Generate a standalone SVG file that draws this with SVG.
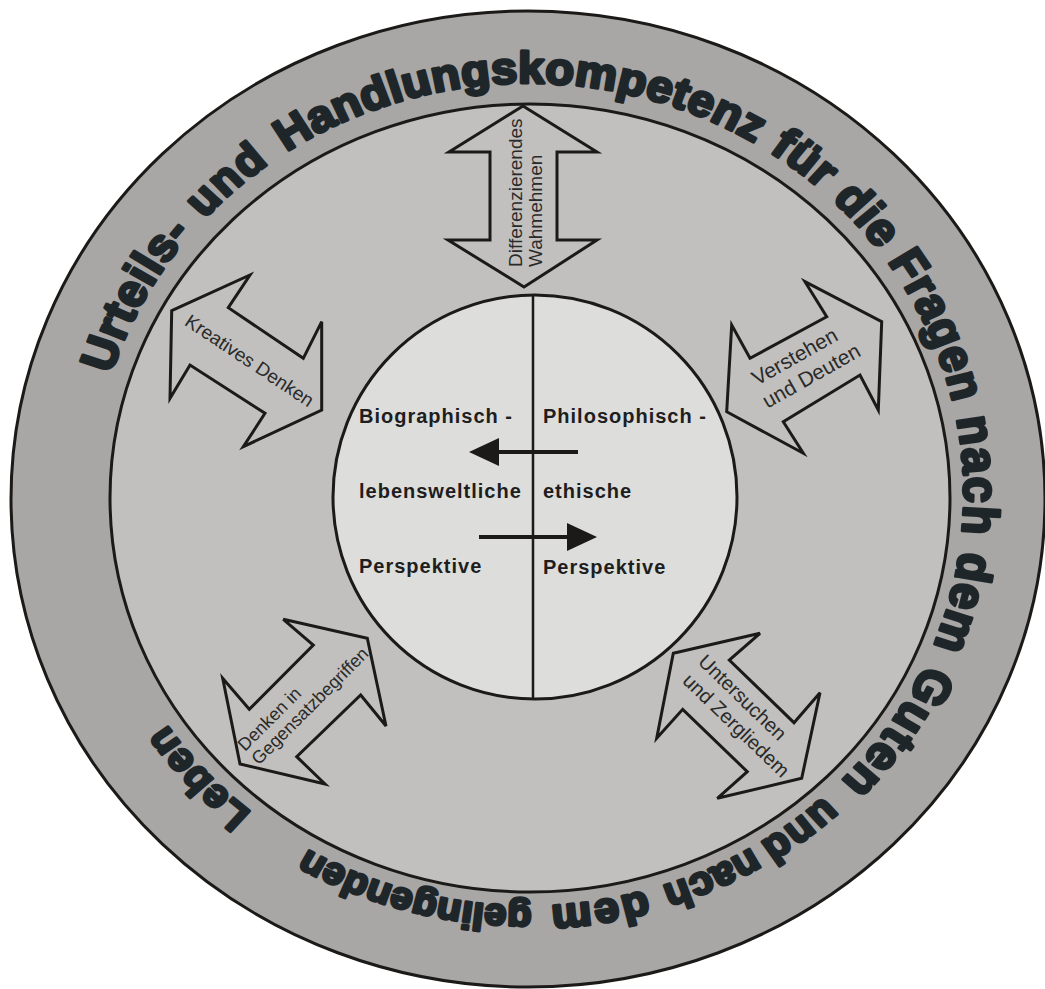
<svg xmlns="http://www.w3.org/2000/svg" width="1045" height="989" viewBox="0 0 1045 989">
<style>
.ring{stroke:#1c1a18;stroke-width:3}
.arrow{fill:#c1c0be;stroke:#1c1a18;stroke-width:3;stroke-linejoin:miter}
.lbl{font-family:"Liberation Sans",Arial,sans-serif;fill:#2a2a2a}
.persp{font-family:"Liberation Sans",Arial,sans-serif;font-weight:bold;font-size:20px;fill:#1e1e1e;letter-spacing:1px}
.arc{font-family:"Liberation Sans",Arial,sans-serif;font-weight:bold;fill:#1f262a;stroke:#1f262a;stroke-width:3.2;stroke-linejoin:round}
.conn{stroke:#1c1a18;stroke-width:4;fill:none}
</style>
<defs>
<path id="ringPath" d="M -436 0 A 436 436 0 0 1 436 0 A 436 436 0 0 1 -436 0" fill="none"/>
<marker id="head" viewBox="0 0 30 28" markerWidth="30" markerHeight="28" refX="0" refY="14" orient="auto" markerUnits="userSpaceOnUse">
<path d="M0,0 L30,14 L0,28 z" fill="#1c1a18"/>
</marker>
</defs>
<rect width="1045" height="989" fill="#ffffff"/>
<g id="outer-ring"><ellipse cx="528" cy="499" rx="517" ry="488" fill="#a8a7a5" class="ring"/></g>
<g id="middle-ring"><ellipse cx="530" cy="498" rx="420" ry="394" fill="#c1c0be" class="ring"/></g>
<g id="title" class="arc" transform="translate(528,494.5) scale(1,0.944)">
<text><textPath href="#ringPath" startOffset="129.4" textLength="171.2" lengthAdjust="spacing" font-size="48">Urteils-</textPath></text>
<text><textPath href="#ringPath" startOffset="319.6" textLength="87.5" lengthAdjust="spacing" font-size="46">und</textPath></text>
<text><textPath href="#ringPath" startOffset="428.4" textLength="494.6" lengthAdjust="spacing" font-size="47">Handlungskompetenz</textPath></text>
<text><textPath href="#ringPath" startOffset="939.8" textLength="331" lengthAdjust="spacing" font-size="48">für die Fragen</textPath></text>
<text><textPath href="#ringPath" startOffset="1287.6" textLength="123.3" lengthAdjust="spacing" font-size="50">nach</textPath></text>
<text><textPath href="#ringPath" startOffset="1429.1" textLength="105" lengthAdjust="spacing" font-size="50">dem</textPath></text>
<text><textPath href="#ringPath" startOffset="1553.9" textLength="151.4" lengthAdjust="spacing" font-size="50">Guten</textPath></text>
<text><textPath href="#ringPath" startOffset="1728.1" textLength="81.4" lengthAdjust="spacing" font-size="43">und</textPath></text>
<text><textPath href="#ringPath" startOffset="1818.7" textLength="98.9" lengthAdjust="spacing" font-size="42">nach</textPath></text>
<text><textPath href="#ringPath" startOffset="1934.4" textLength="96.6" lengthAdjust="spacing" font-size="45">dem</textPath></text>
<text><textPath href="#ringPath" startOffset="2050.1" textLength="235.1" lengthAdjust="spacing" font-size="40">gelingenden</textPath></text>
<text><textPath href="#ringPath" startOffset="2352.9" textLength="126.3" lengthAdjust="spacing" font-size="42">Leben</textPath></text>
</g>
<g id="inner-circle">
<ellipse cx="535" cy="497" rx="202" ry="202" fill="#dddddb" class="ring"/>
<line x1="533" y1="295" x2="533" y2="699" stroke="#1c1a18" stroke-width="2.5"/>
</g>
<g id="biographisch">
<text class="persp" x="359" y="423">Biographisch -</text>
<text class="persp" x="359" y="498">lebensweltliche</text>
<text class="persp" x="359" y="573">Perspektive</text>
</g>
<g id="philosophisch">
<text class="persp" x="543" y="423">Philosophisch -</text>
<text class="persp" x="543" y="498">ethische</text>
<text class="persp" x="543" y="574">Perspektive</text>
</g>
<g id="connectors">
<line class="conn" x1="578" y1="452" x2="499" y2="452" marker-end="url(#head)"/>
<line class="conn" x1="479" y1="537" x2="567" y2="537" marker-end="url(#head)"/>
</g>
<g id="differenzierendes-wahrnehmen">
<polygon class="arrow" points="523,106 597,152 557,152 557,240 597,240 524,287 448,240 490,240 490,152 449,152"/>
<text class="lbl" font-size="19" transform="translate(522,267) rotate(-90)"><tspan x="0" y="0">Differenzierendes</tspan><tspan x="0" y="19.5">Wahmehmen</tspan></text>
</g>
<g id="kreatives-denken">
<polygon class="arrow" points="171.7,310.7 250,275 228.3,307.7 303.3,358.3 321.7,321.7 321.7,410 243.3,446.7 265,413.3 190,365 170,398.3"/>
<text class="lbl" font-size="19" text-anchor="middle" transform="translate(246,366) rotate(33.7)">Kreatives Denken</text>
</g>
<g id="verstehen-deuten">
<polygon class="arrow" points="805,281.7 826.7,316.7 750,358.3 731.7,325 726.7,411.7 803.3,453.3 783.3,421.7 860,375 878.3,410 881.7,321.7"/>
<text class="lbl" font-size="21" transform="translate(757,386) rotate(-29.5)"><tspan x="0" y="0">Verstehen</tspan><tspan x="-2" y="25">und Deuten</tspan></text>
</g>
<g id="denken-gegensatz">
<polygon class="arrow" points="283.3,619.3 313.3,645 249.3,709.3 222.7,678.3 240,764 325,784 296.7,756.7 360.7,695 386,726 367.3,638.3"/>
<text class="lbl" font-size="18" transform="translate(245,752) rotate(-45)"><tspan x="0" y="0">Denken in</tspan><tspan x="0" y="19.5">Gegensatzbegriffen</tspan></text>
</g>
<g id="untersuchen-zergliedern">
<polygon class="arrow" points="673.3,653.3 760,633.3 729.3,660 794,722.7 820,692.7 801.7,778.3 717.3,798.3 747.3,771.7 682.7,709.3 656.7,738.3"/>
<text class="lbl" font-size="20" transform="translate(697,663) rotate(44)"><tspan x="0" y="0">Untersuchen</tspan><tspan x="2" y="24.5">und Zergliedem</tspan></text>
</g>
</svg>
